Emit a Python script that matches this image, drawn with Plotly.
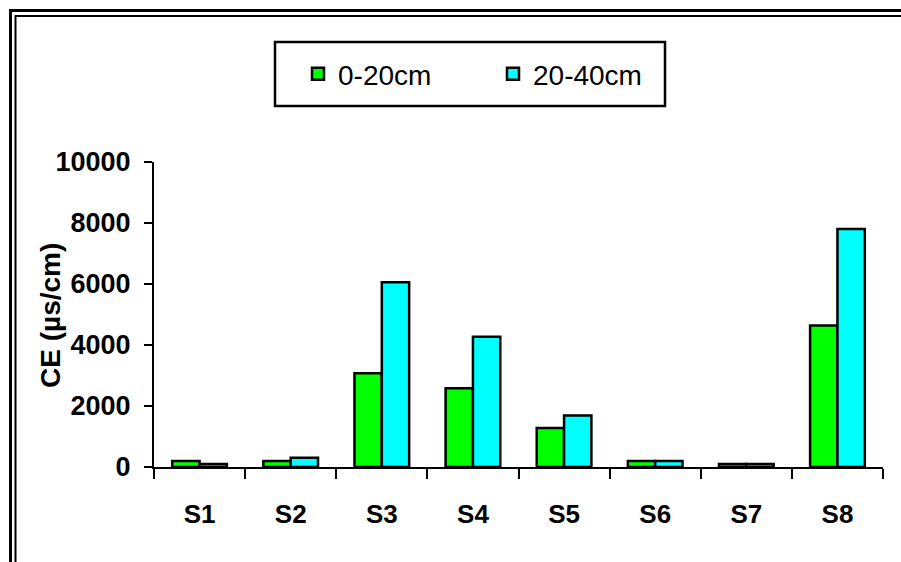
import plotly.graph_objects as go

categories = ["S1", "S2", "S3", "S4", "S5", "S6", "S7", "S8"]
ce_0_20 = [200, 200, 3070, 2580, 1280, 200, 100, 4640]
ce_20_40 = [100, 300, 6060, 4270, 1690, 200, 100, 7800]
series_names = ["0-20cm", "20-40cm"]
y_ticks = [0, 2000, 4000, 6000, 8000, 10000]

W, H = 901, 562
L, R, T, B = 154, 18, 162, 95
PW, PH = W - L - R, H - T - B

def px_x(p):
    return (p - L) / PW

def px_y(p):
    return (H - B - p) / PH

fig = go.Figure()
fig.add_trace(go.Bar(x=categories, y=ce_0_20, name=series_names[0],
                     marker=dict(color="#00FF00", line=dict(color="black", width=2.5))))
fig.add_trace(go.Bar(x=categories, y=ce_20_40, name=series_names[1],
                     marker=dict(color="#00FFFF", line=dict(color="black", width=2.5))))

FONT = "Liberation Sans, Arial"

fig.update_layout(
    width=W, height=H,
    margin=dict(l=L, r=R, t=T, b=B, autoexpand=False),
    paper_bgcolor="white", plot_bgcolor="white",
    barmode="group", bargap=0.4, bargroupgap=0,
    showlegend=True,
    legend=dict(orientation="h", x=px_x(298), y=px_y(74), xanchor="left", yanchor="middle",
                font=dict(family=FONT, size=28, color="black"),
                bgcolor="rgba(0,0,0,0)", borderwidth=0,
                entrywidth=150, entrywidthmode="pixels", traceorder="normal"),
    xaxis=dict(type="category", showline=True, linecolor="black", linewidth=2,
               ticks="outside", tickson="boundaries", ticklen=10, tickwidth=2, tickcolor="black",
               showgrid=False, ticklabelstandoff=23,
               tickfont=dict(family=FONT, size=26, color="black", weight="bold")),
    yaxis=dict(range=[0, 10000], tickvals=y_ticks, tickformat="d", showline=True,
               linecolor="black", linewidth=2, ticks="outside", ticklen=8, tickwidth=2,
               tickcolor="black", showgrid=False, zeroline=False,
               tickfont=dict(family=FONT, size=27, color="black", weight="bold"),
               ticklabelstandoff=8),
    annotations=[dict(text="CE (µs/cm)", textangle=-90, xref="paper", yref="paper",
                      x=px_x(50), y=px_y(316), xanchor="center", yanchor="middle",
                      showarrow=False,
                      font=dict(family=FONT, size=28, color="black", weight="bold"))],
    shapes=[
        dict(type="rect", xref="paper", yref="paper", x0=px_x(10.5), x1=px_x(1000),
             y0=px_y(10.5), y1=px_y(700), line=dict(color="black", width=3)),
        dict(type="rect", xref="paper", yref="paper", x0=px_x(15.5), x1=px_x(1000),
             y0=px_y(16), y1=px_y(700), line=dict(color="black", width=2)),
        dict(type="rect", xref="paper", yref="paper", x0=px_x(275), x1=px_x(665),
             y0=px_y(42), y1=px_y(106), line=dict(color="black", width=2.5)),
    ],
)

fig.write_html("out.html", config={"displayModeBar": False},
               post_script="document.body.style.margin='0';document.body.style.padding='0';")
